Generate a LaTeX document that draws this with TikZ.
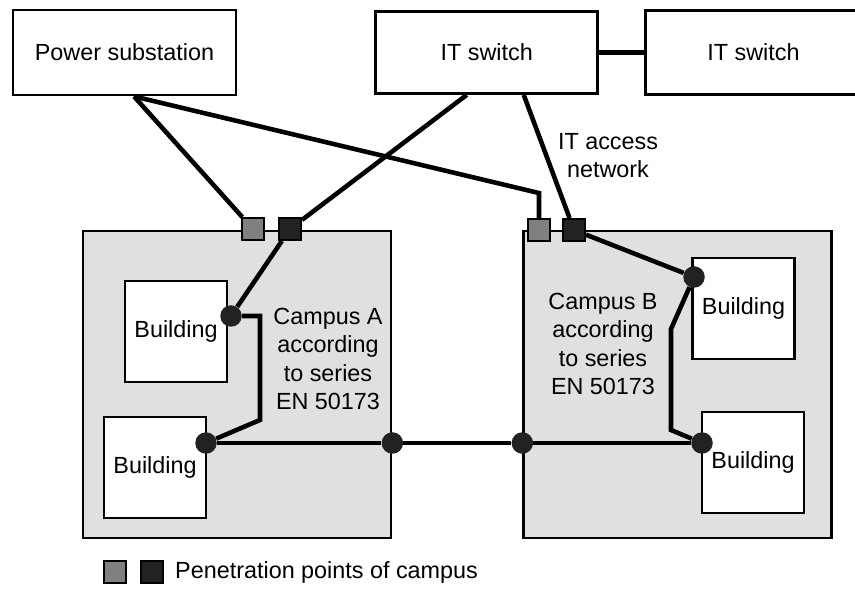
\documentclass[tikz,border=0pt]{standalone}
\usepackage{fontspec}
\setmainfont{Liberation Sans}
\usepackage{tikz}
\usepackage{xcolor}
\usetikzlibrary{positioning, calc}

\definecolor{campusgray}{RGB}{224,224,224}
\definecolor{penegray}{RGB}{128,128,128}
\definecolor{peneblack}{RGB}{34,34,34}

\begin{document}
\begin{tikzpicture}[
            x=0.02cm, y=-0.02cm,
            node distance=0.9cm and 0.9cm,
            font=\fontsize{13.3}{16}\selectfont,
            % Styles for the campus figure
            unit/.style={rectangle, draw, line width=1.6pt, fill=white, align=center,
                    inner sep=0pt},
            campus/.style={rectangle, draw, line width=1.6pt, fill=campusgray,
                    minimum width=6.16cm, minimum height=6.14cm},
            building/.style={rectangle, draw, line width=1.6pt, fill=white,
                    minimum width=2.04cm, minimum height=2.02cm, inner sep=0pt},
            pwrpoint/.style={rectangle, draw, line width=1.1pt, fill=penegray,
                    minimum size=0.44cm, inner sep=0pt},
            netpoint/.style={rectangle, draw, line width=1.1pt, fill=peneblack,
                    minimum size=0.44cm, inner sep=0pt},
            joint/.style={circle, fill=peneblack, minimum size=0.43cm, inner sep=0pt},
            label/.style={align=center, inner sep=0pt},
            cable/.style={line width=2.6pt},
            trunk/.style={line width=2.2pt},
        ]
            \useasboundingbox (0,0) rectangle (855,590);

            % === TOP ROW (Supply) ===
            \node[unit, minimum width=4.46cm, minimum height=1.7cm] (power) at (124.5,52.5) {Power substation};
            \node[unit, minimum width=4.44cm, minimum height=1.64cm, right=2.74cm of power] (itA) {\raisebox{-4pt}{IT switch}};
            \node[unit, minimum width=4.32cm, minimum height=1.68cm, right=0.9cm of itA] (itB) {\raisebox{-7pt}{IT switch}};

            % === CAMPUSES ===
            \node[campus] (campA) at (237,384.5) {};
            \node[campus, right=2.6cm of campA] (campB) {};

            \node[building] (bldA1) at (176,331.5) {Building};
            \node[building] (bldA2) at (155,467.5) {Building};
            \node[building] (bldB1) at (743.5,308.5) {Building};
            \node[building] (bldB2) at (753,462.5) {Building};

            \node[label] (txtA) at (328,359) {Campus A\\according\\to series\\EN 50173};
            \node[label] (txtB) at (603,344) {Campus B\\according\\to series\\EN 50173};
            \node[label] (txtNet) at (608,156) {IT access\\network};

            % Penetration points
            \node[pwrpoint] (pwrA) at (253,229) {};
            \node[netpoint] (netA) at (290,229) {};
            \node[pwrpoint] (pwrB) at (539,230) {};
            \node[netpoint] (netB) at (574,230) {};

            % Joints
            \node[joint] (jA1) at (231,316) {};
            \node[joint] (jA2) at (206,443) {};
            \node[joint] (jCA) at (campA.east |- jA2) {};
            \node[joint] (jCB) at (campB.west |- jA2) {};
            \node[joint] (jB1) at (694,277) {};
            \node[joint] (jB2) at (702,443) {};

            % === CONNECTIONS ===
            \draw[cable, line width=3pt] (itA) -- (itB);
            \draw[cable] ([xshift=0.19cm]power.south) -- (pwrA);
            \draw[cable] ([xshift=0.19cm]power.south) -- ([yshift=0.5cm]pwrB.north) -- (pwrB);
            \draw[cable] ([xshift=-0.4cm]itA.south) -- (netA);
            \draw[cable] ([xshift=0.74cm]itA.south) -- (netB);

            % Inside campus A
            \draw[cable] (netA) -- (jA1);
            \draw[cable] (jA1) -- ++(29,0) -- ++(0,104) -- (jA2);

            % Inside campus B
            \draw[cable] (netB) -- (jB1);
            \draw[cable] (jB1) -- ++(-23,52) -- ++(0,101) -- (jB2);

            % Backbone between campuses
            \draw[trunk] (jA2) -- (jCA) -- (jCB) -- (jB2);

            % === LEGEND ===
            \node[pwrpoint] (legP) at (115,572) {};
            \node[netpoint, right=0.26cm of legP] (legN) {};
            \node[label, right=0.22cm of legN] (legT) {Penetration points of campus};

        \end{tikzpicture}
\end{document}
